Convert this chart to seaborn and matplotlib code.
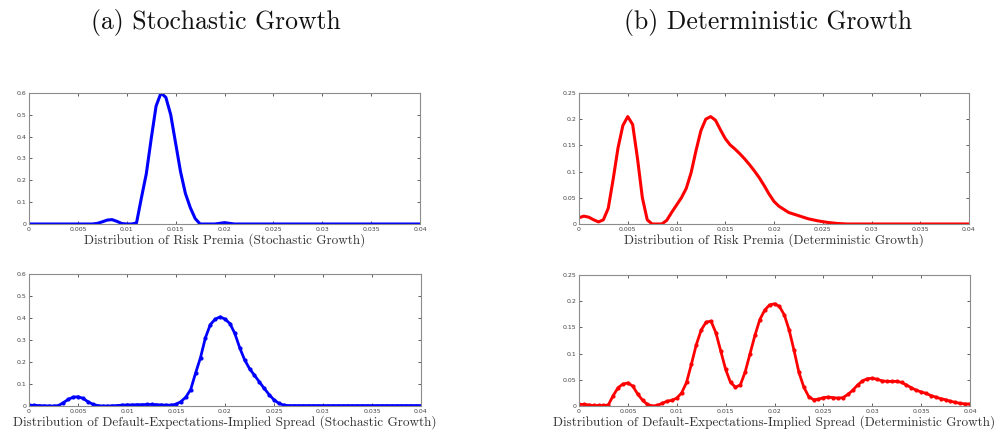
import numpy as np
import pandas as pd
import matplotlib
matplotlib.use("Agg")
import matplotlib.pyplot as plt
import seaborn as sns

# ---------------- data ----------------
x_grid = [round(i * 0.0005, 4) for i in range(81)]

# (a) top: Distribution of Risk Premia (Stochastic Growth)
rp_stoch = [0, 0, 0, 0, 0, 0, 0, 0, 0, 0, 0, 0, 0, 0,
            0.003, 0.01, 0.018, 0.02, 0.012, 0.002, 0, 0, 0.005, 0.12,
            0.23, 0.39, 0.54, 0.60, 0.58, 0.50, 0.37, 0.24, 0.14, 0.075,
            0.025, 0.0, 0, 0, 0, 0.003, 0.006, 0.003, 0, 0, 0, 0, 0, 0,
            0, 0, 0, 0, 0, 0, 0, 0, 0, 0, 0, 0, 0, 0, 0, 0, 0, 0, 0, 0,
            0, 0, 0, 0, 0, 0, 0, 0, 0, 0, 0, 0, 0]

# (a) bottom: Default-Expectations-Implied Spread (Stochastic Growth)
sp_stoch = [0.004, 0.003, 0.002, 0.001, 0.0005, 0.0, 0.002, 0.015, 0.03,
            0.04, 0.042, 0.035, 0.02, 0.008, 0.002, 0.0, 0.0, 0.001, 0.002,
            0.004, 0.005, 0.005, 0.006, 0.006, 0.007, 0.007, 0.006, 0.005,
            0.004, 0.004, 0.008, 0.02, 0.04, 0.075, 0.15, 0.22, 0.31, 0.37,
            0.395, 0.405, 0.395, 0.375, 0.33, 0.265, 0.21, 0.17, 0.14,
            0.11, 0.08, 0.052, 0.028, 0.012, 0.004, 0.002, 0.002, 0.002,
            0.002, 0.002, 0.002, 0.002, 0.002, 0.002, 0.002, 0.002, 0.002,
            0.002, 0.002, 0.002, 0.002, 0.002, 0.002, 0.002, 0.002, 0.002,
            0.002, 0.002, 0.002, 0.002, 0.002, 0.002, 0.002]

# (b) top: Distribution of Risk Premia (Deterministic Growth)
rp_det = [0.012, 0.015, 0.013, 0.008, 0.004, 0.008, 0.03, 0.085, 0.145,
          0.188, 0.205, 0.19, 0.125, 0.05, 0.008, 0, 0, 0, 0.007, 0.022,
          0.036, 0.05, 0.068, 0.098, 0.14, 0.178, 0.2, 0.205, 0.198, 0.18,
          0.163, 0.151, 0.143, 0.134, 0.124, 0.113, 0.101, 0.088, 0.073,
          0.057, 0.043, 0.034, 0.028, 0.022, 0.019, 0.016, 0.013, 0.01,
          0.008, 0.006, 0.0045, 0.003, 0.002, 0.001, 0.0005, 0, 0, 0, 0,
          0, 0, 0, 0, 0, 0, 0, 0, 0, 0, 0, 0, 0, 0, 0, 0, 0, 0, 0, 0, 0, 0]

# (b) bottom: Default-Expectations-Implied Spread (Deterministic Growth)
sp_det = [0.003, 0.003, 0.002, 0.001, 0.001, 0.001, 0.002, 0.02, 0.035,
          0.042, 0.044, 0.038, 0.023, 0.011, 0.003, 0.0, 0.001, 0.005,
          0.009, 0.011, 0.015, 0.025, 0.045, 0.08, 0.117, 0.145, 0.16,
          0.162, 0.14, 0.105, 0.07, 0.045, 0.036, 0.04, 0.065, 0.1, 0.135,
          0.165, 0.183, 0.193, 0.195, 0.19, 0.174, 0.145, 0.106, 0.064,
          0.036, 0.018, 0.012, 0.013, 0.016, 0.017, 0.016, 0.015, 0.016,
          0.022, 0.03, 0.04, 0.048, 0.052, 0.053, 0.051, 0.048, 0.047,
          0.047, 0.047, 0.045, 0.04, 0.035, 0.03, 0.027, 0.024, 0.02,
          0.017, 0.014, 0.012, 0.009, 0.007, 0.005, 0.004, 0.004]

x_ticks = [0, 0.005, 0.01, 0.015, 0.02, 0.025, 0.03, 0.035, 0.04]
x_ticklabels = ["0", "0.005", "0.01", "0.015", "0.02", "0.025", "0.03", "0.035", "0.04"]
y_ticks_a = [0, 0.1, 0.2, 0.3, 0.4, 0.5, 0.6]
y_ticklabels_a = ["0", "0.1", "0.2", "0.3", "0.4", "0.5", "0.6"]
y_ticks_b = [0, 0.05, 0.1, 0.15, 0.2, 0.25]
y_ticklabels_b = ["0", "0.05", "0.1", "0.15", "0.2", "0.25"]

titles = ["(a) Stochastic Growth", "(b) Deterministic Growth"]
xlabels = ["Distribution of Risk Premia (Stochastic Growth)",
           "Distribution of Default-Expectations-Implied Spread (Stochastic Growth)",
           "Distribution of Risk Premia (Deterministic Growth)",
           "Distribution of Default-Expectations-Implied Spread (Deterministic Growth)"]

# ---------------- plotting ----------------
sns.set_theme(style="white")
plt.rcParams["font.family"] = ["DejaVu Sans"]
plt.rcParams["axes.formatter.use_mathtext"] = True

fig = plt.figure(figsize=(9.99, 4.34), dpi=100)

W, H = 999, 434
def place(x0, x1, y0, y1):
    return [x0 / W, 1 - y1 / H, (x1 - x0) / W, (y1 - y0) / H]

panels = [
    (place(29, 420, 93, 224), rp_stoch, "#0000ff", y_ticks_a, y_ticklabels_a, 0.6, False, xlabels[0]),
    (place(29, 421, 274, 406), sp_stoch, "#0000ff", y_ticks_a, y_ticklabels_a, 0.6, True, xlabels[1]),
    (place(579, 969, 93, 224), rp_det, "#ff0000", y_ticks_b, y_ticklabels_b, 0.25, False, xlabels[2]),
    (place(579, 970, 275, 406), sp_det, "#ff0000", y_ticks_b, y_ticklabels_b, 0.25, True, xlabels[3]),
]

serif = "cmr10"
for rect, ys, col, yt, ytl, ymax, markers, xl in panels:
    ax = fig.add_axes(rect)
    df = pd.DataFrame({"x": x_grid, "y": ys})
    if markers:
        sns.lineplot(data=df, x="x", y="y", ax=ax, color=col, linewidth=2.0,
                     marker="o", markersize=3.0, markeredgewidth=0, estimator=None)
    else:
        sns.lineplot(data=df, x="x", y="y", ax=ax, color=col, linewidth=2.2,
                     estimator=None)
    ax.set_xlim(0, 0.04)
    ax.set_ylim(0, ymax)
    ax.set_xticks(x_ticks, x_ticklabels)
    ax.set_yticks(yt, ytl)
    ax.tick_params(axis="both", direction="in", length=2.5, width=0.6,
                   labelsize=4.5, colors="#444444", pad=2,
                   top=True, right=True, bottom=True, left=True)
    for s in ax.spines.values():
        s.set_color("#8c8c8c")
        s.set_linewidth(0.8)
    ax.set_xlabel(xl, fontfamily=serif, fontsize=9.5, color="#333333", labelpad=1)
    ax.set_ylabel("")

fig.text(216 / W, 1 - 22 / H, titles[0], ha="center", va="center",
         fontfamily=serif, fontsize=18.5, color="#111111")
fig.text(768 / W, 1 - 22 / H, titles[1], ha="center", va="center",
         fontfamily=serif, fontsize=18.5, color="#111111")

fig.savefig("out.png", dpi=100, facecolor="white")
